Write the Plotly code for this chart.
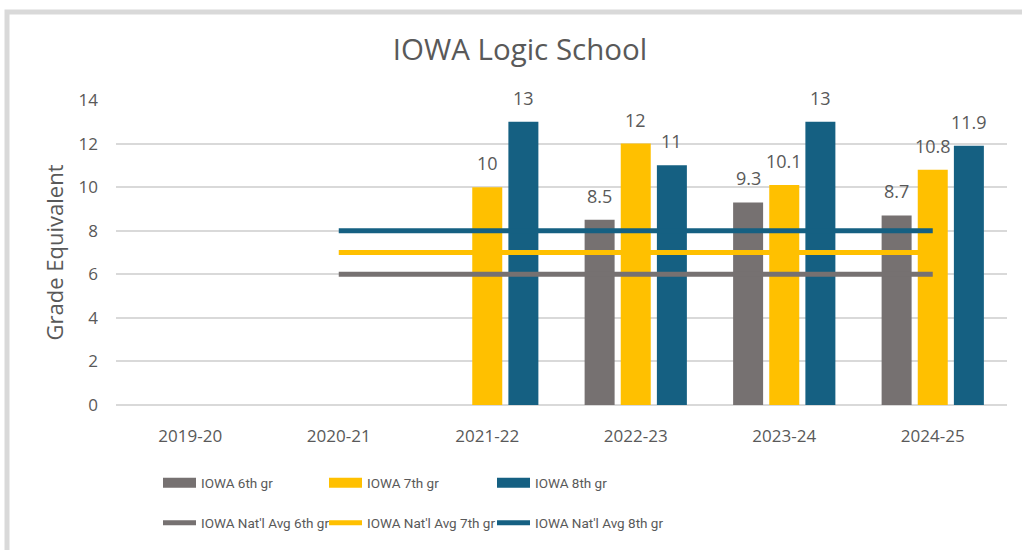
import plotly.graph_objects as go

years = ["2019-20", "2020-21", "2021-22", "2022-23", "2023-24", "2024-25"]
iowa_6th = [None, None, None, 8.5, 9.3, 8.7]
iowa_7th = [None, None, 10, 12, 10.1, 10.8]
iowa_8th = [None, None, 13, 11, 13, 11.9]
natl_6th = [None, 6, 6, 6, 6, 6]
natl_7th = [None, 7, 7, 7, 7, 7]
natl_8th = [None, 8, 8, 8, 8, 8]

GRAY = "#767171"
YELLOW = "#FFC000"
BLUE = "#156082"
TEXT = "#595959"
FONT = "Open Sans"
LEGFONT = "Roboto"

W, H = 1022, 550
ML, MR, MT, MB = 116, 15, 100, 145
plot_w = W - ML - MR
plot_h = H - MT - MB
BARGAP = 0.27
slot = plot_w / len(years) * (1 - BARGAP) / 3

fig = go.Figure()

bar_series = [("IOWA 6th gr", iowa_6th, GRAY),
              ("IOWA 7th gr", iowa_7th, YELLOW),
              ("IOWA 8th gr", iowa_8th, BLUE)]
line_series = [("IOWA Nat'l Avg 6th gr", natl_6th, GRAY),
               ("IOWA Nat'l Avg 7th gr", natl_7th, YELLOW),
               ("IOWA Nat'l Avg 8th gr", natl_8th, BLUE)]

# legend slots: one legend per entry, placed in a 3x2 grid
col_px = [158, 324, 492]
row_px = [483, 523]
legend_layouts = {}


def legend_name(i):
    return "legend" if i == 0 else f"legend{i + 1}"


for i in range(6):
    r, c = divmod(i, 3)
    legend_layouts[legend_name(i)] = dict(
        orientation="h", xanchor="left", yanchor="middle",
        x=(col_px[c] - ML) / plot_w, y=-(row_px[r] - (MT + plot_h)) / plot_h,
        itemwidth=33, font=dict(family=LEGFONT, size=13.5, color=TEXT),
        bgcolor="rgba(0,0,0,0)")

for name, vals, col in bar_series:
    fig.add_trace(go.Bar(x=years, y=vals, name=name, marker_color=col,
                         marker_line_width=0, showlegend=False))

for k, (name, vals, col) in enumerate(line_series):
    fig.add_trace(go.Scatter(x=years, y=vals, name=name, mode="lines",
                             line=dict(color=col, width=5),
                             legend=legend_name(3 + k), connectgaps=False))

# legend proxies for bar series (wide rectangle swatches)
for k, (name, vals, col) in enumerate(bar_series):
    fig.add_trace(go.Scatter(x=[None], y=[None], name=name, mode="lines",
                             line=dict(color=col, width=14),
                             legend=legend_name(k)))

annotations = []
for k, (name, vals, col) in enumerate(bar_series):
    for x, v in zip(years, vals):
        if v is None:
            continue
        annotations.append(dict(x=x, y=v, xref="x", yref="y", text=f"{v:g}",
                                showarrow=False, xshift=(k - 1) * slot,
                                yshift=24, yanchor="middle",
                                font=dict(family=FONT, size=18, color=TEXT)))

fig.update_layout(
    width=W, height=H,
    margin=dict(l=ML, r=MR, t=MT, b=MB),
    paper_bgcolor="white", plot_bgcolor="white",
    barmode="group", bargap=BARGAP, bargroupgap=0.17,
    font=dict(family=FONT, color=TEXT),
    title=dict(text="IOWA Logic School", x=520 / W, xref="container",
               xanchor="center", y=1 - 50 / H, yanchor="middle",
               font=dict(family=FONT, size=29.5, color=TEXT)),
    xaxis=dict(type="category", showgrid=False, ticks="", showline=False,
               tickfont=dict(family=FONT, size=17, color=TEXT),
               ticklabelstandoff=19, fixedrange=True),
    yaxis=dict(range=[0, 14], dtick=2, showgrid=True, gridcolor="#D9D9D9",
               gridwidth=1.5, zeroline=True, zerolinecolor="#D9D9D9",
               zerolinewidth=1.5, ticks="", ticklabelstandoff=17,
               tickfont=dict(family=FONT, size=17, color=TEXT),
               title=dict(text="Grade Equivalent", standoff=8,
                          font=dict(family=FONT, size=22, color=TEXT))),
    annotations=annotations,
    shapes=[dict(type="rect", xref="paper", yref="paper",
                 x0=-(ML - 7) / plot_w, x1=1 + (MR + 40) / plot_w,
                 y0=-(MB + 40) / plot_h, y1=1 + (MT - 12) / plot_h,
                 line=dict(color="#D9D9D9", width=5), layer="below")],
    **legend_layouts,
)

fig.write_html("out.html", config={"displayModeBar": False},
               post_script="document.body.style.margin='0';")
